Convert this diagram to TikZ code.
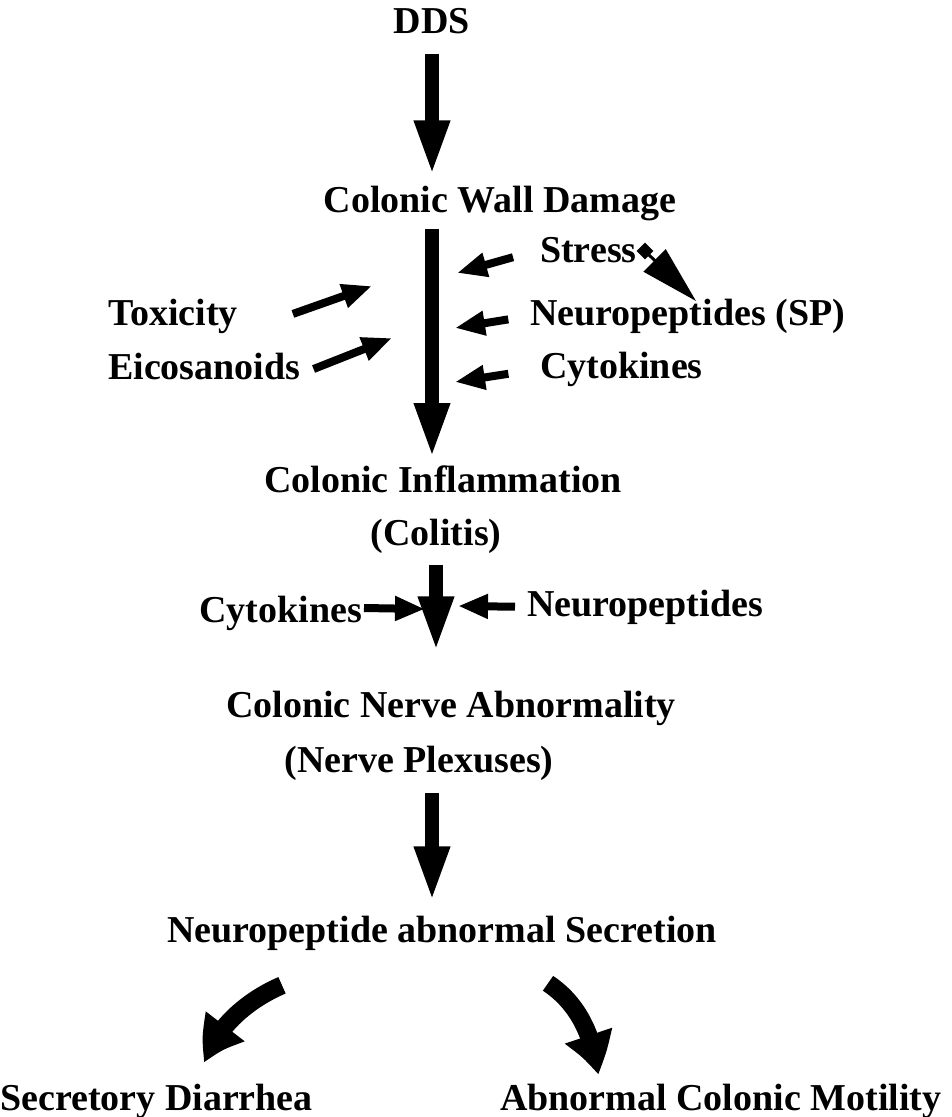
\documentclass[tikz,border=0pt]{standalone}
\usepackage{fontspec}
\setmainfont{Liberation Serif}
\usetikzlibrary{arrows.meta,bending,calc,shapes.geometric}
\tikzset{lbl/.style={font=\bfseries\fontsize{38}{44}\selectfont,inner sep=0pt},
  main/.style={-{Triangle[length=56pt,width=32pt]},line width=14pt},
  side/.style={-{Triangle[length=30pt,width=23pt]},line width=8pt},
  curved/.style={-{Triangle[length=42pt,width=46pt,bend]},line width=18pt}}

\begin{document}
\begin{tikzpicture}[x=1pt,y=-1pt]
\useasboundingbox (0,0) rectangle (951,1117);
% chain of events
\node[lbl,anchor=base] (dds) at (432,33){DDS};
\node[lbl,anchor=base] (wall) at (500,212){Colonic Wall Damage};
\node[lbl,anchor=base] (infl) at (443,492){Colonic Inflammation};
\node[lbl,anchor=base] (colitis) at (436,545){(Colitis)};
\node[lbl,anchor=base] (nerve) at (451,717){Colonic Nerve Abnormality};
\node[lbl,anchor=base] (plexus) at (419,772){(Nerve Plexuses)};
\node[lbl,anchor=base] (secr) at (442,942){Neuropeptide abnormal Secretion};
\node[lbl,anchor=base west] (diar) at (0,1110){Secretory Diarrhea};
\node[lbl,anchor=base west] (motil) at (500,1110){Abnormal Colonic Motility};
% factors
\node[lbl,anchor=base west] (stress) at (540,262){Stress};
\node[lbl,anchor=base west] (npsp) at (530,325){Neuropeptides (SP)};
\node[lbl,anchor=base west] (cytr) at (540,378){Cytokines};
\node[lbl,anchor=base west] (tox) at (108,325){Toxicity};
\node[lbl,anchor=base west] (eico) at (108,379){Eicosanoids};
\node[lbl,anchor=base east] (cytl) at (362,622){Cytokines};
\node[lbl,anchor=base west] (npm) at (527,616){Neuropeptides};
\node[diamond,fill,inner sep=0pt,minimum width=17pt,minimum height=17pt] (sd) at (645,251){};
\coordinate (hs) at (457,273);
\coordinate (hn) at (455,328);
\coordinate (hc) at (455,382);
\coordinate (ht) at (372,286);
\coordinate (he) at (392,338);
\coordinate (hcl) at (425,609);
\coordinate (hnm) at (458,606);
\coordinate (hsd) at (696,301);
% main arrows
\draw[main] ([yshift=-20pt]dds.south) -- ([yshift=9pt]dds.south |- wall.north);
\draw[main] ([yshift=-8pt]wall.south -| dds.south) -- ([yshift=6pt]infl.north -| dds.south);
\draw[main] ([yshift=-12pt]colitis.south) -- ([yshift=38pt]colitis.south |- nerve.north);
\draw[main] ([yshift=-13pt]plexus.south -| dds.south) -- ([yshift=13pt]secr.north -| dds.south);
% side arrows
\draw[side,shorten <=28pt] (stress.west) -- (hs);
\draw[side,shorten <=22pt] (npsp.west) -- (hn);
\draw[side,shorten <=32pt] (cytr.west) -- (hc);
\draw[side] ([shift={(55pt,2pt)}]tox.east) -- (ht);
\draw[side] ([shift={(13pt,-3pt)}]eico.east) -- (he);
\draw[side] ([shift={(2pt,14pt)}]cytl.base east) -- (hcl);
\draw[side,shorten <=12pt] (npm.west) -- (hnm);
\draw[-{Triangle[length=58pt,width=31pt]},line width=3pt] (sd.center) -- (hsd);
% outcomes
\draw[curved] ([shift={(-160pt,-35pt)}]secr.south) .. controls +(-35,15) and +(10,-35) .. ([shift={(205pt,47pt)}]diar.base west);
\draw[curved] ([shift={(106pt,-33pt)}]secr.south) .. controls +(30,20) and +(-5,-40) .. ([shift={(98pt,35pt)}]motil.base west);
\end{tikzpicture}
\end{document}
